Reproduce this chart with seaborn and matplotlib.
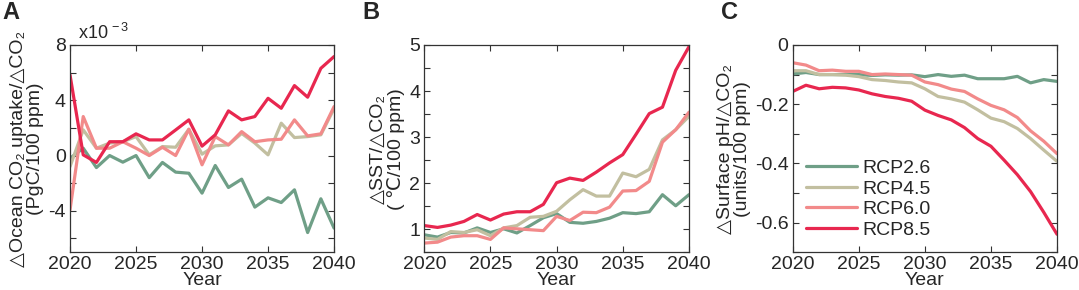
import numpy as np
import pandas as pd
import seaborn as sns
import matplotlib.pyplot as plt
from matplotlib.ticker import MultipleLocator, FuncFormatter

# datos (2020-2040)
years = list(range(2020, 2041))
scenarios = ['RCP2.6', 'RCP4.5', 'RCP6.0', 'RCP8.5']
colores = ['#6f9f87', '#c2bfa0', '#f28a8a', '#e8274f']

# A: Ocean CO2 uptake (x10^-3)
uptake_26 = [-0.2, 0.53, -0.87, 0.0, -0.48, 0.0, -1.6, -0.5, -1.2, -1.28, -2.72,
             -0.72, -2.31, -1.71, -3.73, -3.06, -3.4, -2.48, -5.57, -3.13, -5.25]
uptake_45 = [-0.8, 1.86, 0.53, 0.9, 1.0, 1.37, 0.05, 0.65, 0.6, 1.9, 0.1,
             0.7, 0.77, 1.6, 0.9, 0.05, 2.34, 1.3, 1.37, 1.5, 3.4]
uptake_60 = [-3.93, 2.82, 0.53, 0.53, 1.0, 0.53, 0.0, 0.6, 0.0, 1.9, -0.67,
             1.37, 0.77, 1.73, 1.0, 1.13, 1.18, 2.58, 1.42, 1.57, 3.54]
uptake_85 = [5.83, 0.05, -0.5, 1.0, 1.0, 1.57, 1.13, 1.13, 1.85, 2.58, 0.68,
             1.5, 3.23, 2.58, 2.82, 4.14, 3.42, 5.06, 4.22, 6.31, 7.16]

# B: SST
sst_26 = [0.88, 0.83, 0.93, 0.92, 1.03, 0.93, 1.01, 0.92, 1.08, 1.25, 1.34,
          1.15, 1.13, 1.17, 1.24, 1.36, 1.34, 1.38, 1.75, 1.51, 1.75]
sst_45 = [0.81, 0.78, 0.95, 0.93, 0.99, 0.86, 1.03, 1.08, 1.26, 1.28, 1.39,
          1.64, 1.86, 1.72, 1.72, 2.22, 2.14, 2.3, 2.94, 3.16, 3.45]
sst_60 = [0.70, 0.72, 0.83, 0.86, 0.86, 0.78, 1.03, 1.01, 0.99, 0.97, 1.28,
          1.19, 1.37, 1.36, 1.48, 1.83, 1.84, 2.04, 2.89, 3.16, 3.54]
sst_85 = [1.08, 1.04, 1.09, 1.17, 1.32, 1.2, 1.33, 1.38, 1.38, 1.54, 2.01,
          2.11, 2.06, 2.24, 2.44, 2.62, 3.06, 3.51, 3.65, 4.45, 4.96]

# C: surface pH
ph_26 = [-0.098, -0.093, -0.1, -0.1, -0.1, -0.1, -0.103, -0.101, -0.102, -0.101, -0.107,
         -0.1, -0.106, -0.102, -0.114, -0.114, -0.114, -0.106, -0.128, -0.117, -0.123]
ph_45 = [-0.087, -0.087, -0.1, -0.1, -0.102, -0.107, -0.117, -0.12, -0.125, -0.128, -0.148,
         -0.174, -0.182, -0.193, -0.219, -0.247, -0.259, -0.282, -0.316, -0.355, -0.393]
ph_60 = [-0.06, -0.068, -0.087, -0.085, -0.089, -0.089, -0.1, -0.098, -0.1, -0.102, -0.125,
         -0.134, -0.149, -0.157, -0.182, -0.204, -0.219, -0.245, -0.29, -0.325, -0.367]
ph_85 = [-0.157, -0.136, -0.148, -0.143, -0.145, -0.152, -0.165, -0.174, -0.18, -0.19, -0.22,
         -0.238, -0.253, -0.279, -0.316, -0.342, -0.389, -0.438, -0.495, -0.565, -0.639]


def tabla(series):
    filas = []
    for esc, vals in zip(scenarios, series):
        for y, v in zip(years, vals):
            filas.append({'Year': y, 'valor': v, 'escenario': esc})
    return pd.DataFrame(filas)


sns.set_style('ticks')
plt.rcParams['font.family'] = ['Liberation Sans', 'DejaVu Sans']
plt.rcParams['mathtext.fontset'] = 'custom'
plt.rcParams['mathtext.rm'] = 'Liberation Sans'
plt.rcParams['mathtext.it'] = 'Liberation Sans:italic'
plt.rcParams['axes.unicode_minus'] = False

fs = 14
fig = plt.figure(figsize=(10.79, 2.9), dpi=100)
ax_a = fig.add_axes([0.0649, 0.130, 0.2447, 0.715])
ax_b = fig.add_axes([0.3932, 0.130, 0.2453, 0.715])
ax_c = fig.add_axes([0.7347, 0.130, 0.2449, 0.715])

tri = '\u25b3'
paneles = [
    (ax_a, [uptake_26, uptake_45, uptake_60, uptake_85], (-7, 8), 4, 2,
     tri + 'Ocean CO\u2082 uptake/' + tri + 'CO\u2082\n(PgC/100 ppm)', 'A'),
    (ax_b, [sst_26, sst_45, sst_60, sst_85], (0.5, 5), 1, 0.5,
     tri + 'SST/' + tri + 'CO\u2082\n( \u2103/100 ppm)', 'B'),
    (ax_c, [ph_26, ph_45, ph_60, ph_85], (-0.7, 0), 0.2, 0.1,
     tri + 'Surface pH/' + tri + 'CO\u2082\n(units/100 ppm)', 'C'),
]

for ax, series, ylim, mayor, menor, etiqueta, letra in paneles:
    df = tabla(series)
    sns.lineplot(data=df, x='Year', y='valor', hue='escenario', palette=colores,
                 linewidth=2.3, ax=ax, legend=(letra == 'C'))
    ax.set_xlim(2020, 2040)
    ax.set_ylim(*ylim)
    ax.set_xticks([2020, 2025, 2030, 2035, 2040])
    ax.yaxis.set_major_locator(MultipleLocator(mayor))
    ax.yaxis.set_minor_locator(MultipleLocator(menor))
    ax.yaxis.set_major_formatter(FuncFormatter(lambda v, p: '%g' % round(v, 6)))
    ax.tick_params(which='both', direction='in', top=True, right=True,
                   labelsize=fs, length=4, width=0.8, color='#333333', pad=3)
    ax.set_xlabel('Year', fontsize=fs, labelpad=-1)
    ax.set_ylabel(etiqueta, fontsize=fs, linespacing=1.0, labelpad=3)
    for s in ax.spines.values():
        s.set_color('#333333')
        s.set_linewidth(0.9)

fig.text(0.002, 0.998, 'A', fontsize=17, fontweight='bold', va='top', ha='left')
fig.text(0.336, 0.998, 'B', fontsize=17, fontweight='bold', va='top', ha='left')
fig.text(0.668, 0.998, 'C', fontsize=17, fontweight='bold', va='top', ha='left')

ax_a.text(0.03, 1.01, 'x10$^{\\,-3}$', transform=ax_a.transAxes, fontsize=fs - 1,
          ha='left', va='bottom')

leg = ax_c.legend(loc='lower left', bbox_to_anchor=(0.0, 0.0), frameon=False,
                  fontsize=fs, handlelength=2.6, handletextpad=0.3,
                  labelspacing=0.15, borderaxespad=0.3)
for linea in leg.get_lines():
    linea.set_linewidth(2.3)

fig.savefig('out.png', dpi=100)
